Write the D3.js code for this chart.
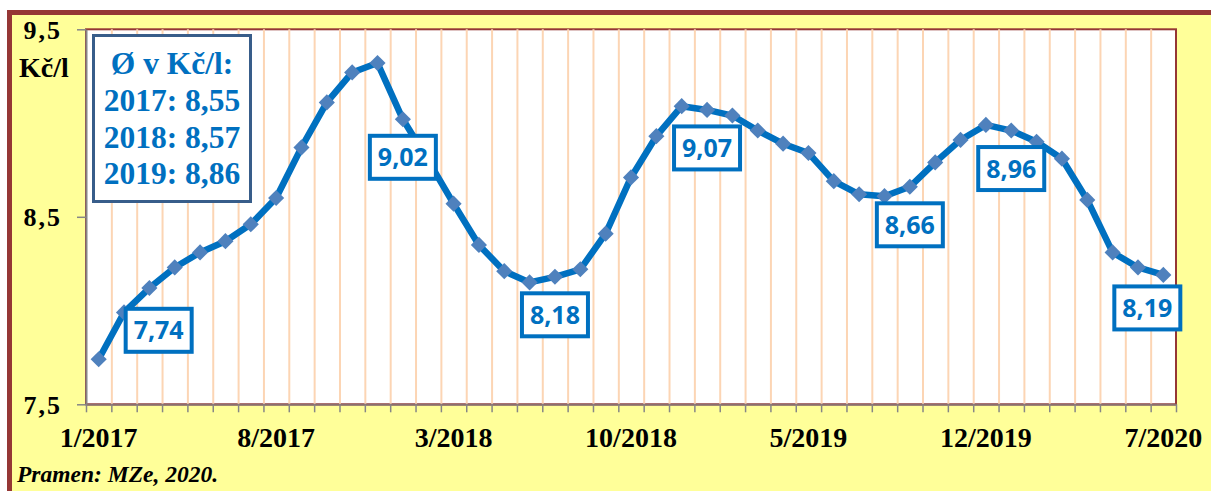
<!DOCTYPE html>
<html><head><meta charset="utf-8">
<script src="https://cdn.jsdelivr.net/npm/d3@7"></script>
<style>
html,body{margin:0;padding:0;background:#fff;}
svg{display:block;}
</style></head>
<body>
<svg id="c" width="1211" height="491"></svg>
<script>
// ---- data ----
const months = ["1/2017","2/2017","3/2017","4/2017","5/2017","6/2017","7/2017","8/2017","9/2017","10/2017","11/2017","12/2017",
"1/2018","2/2018","3/2018","4/2018","5/2018","6/2018","7/2018","8/2018","9/2018","10/2018","11/2018","12/2018",
"1/2019","2/2019","3/2019","4/2019","5/2019","6/2019","7/2019","8/2019","9/2019","10/2019","11/2019","12/2019",
"1/2020","2/2020","3/2020","4/2020","5/2020","6/2020","7/2020"];
const prices = [7.74,7.99,8.12,8.23,8.31,8.37,8.46,8.60,8.87,9.11,9.27,9.32,
9.02,8.80,8.57,8.35,8.21,8.15,8.18,8.22,8.41,8.71,8.93,9.09,
9.07,9.04,8.96,8.89,8.84,8.69,8.62,8.61,8.66,8.79,8.91,8.99,
8.96,8.90,8.81,8.59,8.31,8.23,8.19];
const xTickLabels = ["1/2017","8/2017","3/2018","10/2018","5/2019","12/2019","7/2020"];
const yTicks = [7.5,8.5,9.5];
const avgYears = ["2017","2018","2019"];
const avgValues = [8.55,8.57,8.86];
const labelMonths = ["1/2017","1/2018","7/2018","1/2019","9/2019","1/2020","7/2020"];
const unitLabel = "Kč/l";
const legendTitle = "Ø v Kč/l:";
const sourceText = "Pramen: MZe, 2020.";

// ---- layout ----
const L = 86, R = 1176, T = 29.3, B = 404.3;
const serif = "'Liberation Serif','Times New Roman',serif";
const fmt = v => v.toFixed(2).replace(".", ",");
const svg = d3.select("#c");

// frame
svg.append("rect").attr("x",9.5).attr("y",12.5).attr("width",1240).attr("height",520)
  .attr("fill","#FFFF99").attr("stroke","#953735").attr("stroke-width",5);

// plot area
svg.append("rect").attr("x",L).attr("y",T).attr("width",R-L).attr("height",B-T)
  .attr("fill","#fff").attr("stroke","#953735").attr("stroke-width",2);

const x = d3.scaleBand().domain(months).range([L,R]).padding(0);
const xb = d3.scaleLinear().domain([0, months.length]).range([L,R]);
const y = d3.scaleLinear().domain([7.5,9.5]).range([B,T]);

// gridlines
const grid = svg.append("g").attr("transform",`translate(0,${B})`)
  .call(d3.axisBottom(xb).tickValues(d3.range(1, months.length)).tickSize(-(B-T)).tickFormat(""));
grid.select(".domain").remove();
grid.selectAll("line").attr("stroke","#FCD5B4").attr("stroke-width",2);

// x axis ticks
const xa = svg.append("g").attr("transform",`translate(0,${B})`)
  .call(d3.axisBottom(xb).tickValues(d3.range(0, months.length+1)).tickSize(8).tickFormat("").tickSizeOuter(0));
xa.select(".domain").attr("stroke","#8a7070").attr("stroke-width",2);
xa.selectAll("line").attr("stroke","#868686").attr("stroke-width",1.5);

// x labels
const xl = svg.append("g").attr("transform",`translate(0,${B})`)
  .call(d3.axisBottom(x).tickValues(xTickLabels).tickSize(0));
xl.select(".domain").remove();
xl.selectAll("text").attr("y",43).attr("dy",0)
  .attr("font-family",serif).attr("font-weight","bold")
  .attr("font-size",28).attr("fill","#000");

// y axis
const ya = svg.append("g").attr("transform",`translate(${L},0)`)
  .call(d3.axisLeft(y).tickValues(yTicks).tickSize(9).tickSizeOuter(0)
    .tickFormat(d => d.toFixed(1).replace(".", ",")));
ya.select(".domain").attr("stroke","#868686").attr("stroke-width",2);
ya.selectAll("line").attr("stroke","#868686").attr("stroke-width",1.5);
ya.selectAll("text").attr("x",-24).attr("dy","0.34em")
  .attr("font-family",serif).attr("font-weight","bold")
  .attr("font-size",26).attr("fill","#000").attr("letter-spacing",2);

svg.append("text").attr("x",19).attr("y",77).text(unitLabel)
  .attr("font-family",serif).attr("font-weight","bold")
  .attr("font-size",28).attr("fill","#000");

// legend box
svg.append("rect").attr("x",93.5).attr("y",35.5).attr("width",157).attr("height",166)
  .attr("fill","#fff").attr("stroke","#385D8A").attr("stroke-width",3);
const legLines = [legendTitle].concat(avgYears.map((yr,i)=> yr + ": " + fmt(avgValues[i])));
svg.append("g").selectAll("text").data(legLines).join("text")
  .attr("x",172).attr("y",(d,i)=>74 + i*36.8).attr("text-anchor","middle")
  .attr("font-family",serif).attr("font-weight","bold")
  .attr("font-size",31.5).attr("fill","#0070C0").text(d=>d);

// line
const line = d3.line().x((d,i)=> x(months[i]) + x.bandwidth()/2).y(d=>y(d));
svg.append("path").datum(prices).attr("d",line).attr("fill","none")
  .attr("stroke","#0070C0").attr("stroke-width",6.5).attr("stroke-linejoin","round");

// markers
svg.append("g").selectAll("path").data(prices).join("path")
  .attr("d", d3.symbol().type(d3.symbolSquare).size(130))
  .attr("transform",(d,i)=>`translate(${x(months[i]) + x.bandwidth()/2},${y(d)}) rotate(45)`)
  .attr("fill","#4F81BD");

// data labels
const labelOffset = {"1/2017":[60,-29],"7/2020":[-16,33]};
const lg = svg.append("g");
labelMonths.forEach(m => {
  const i = months.indexOf(m);
  const off = labelOffset[m] || [0,38];
  const cx = x(m) + x.bandwidth()/2 + off[0];
  const cy = y(prices[i]) + off[1];
  lg.append("rect").attr("x",cx-33).attr("y",cy-21.5).attr("width",66).attr("height",43)
    .attr("fill","#fff").attr("stroke","#0070C0").attr("stroke-width",4);
  lg.append("text").attr("x",cx).attr("y",cy).attr("dy","0.36em").attr("text-anchor","middle")
    .attr("font-family","'Open Sans','Noto Sans',sans-serif").attr("font-weight","bold")
    .attr("font-size",25).attr("fill","#0070C0").text(fmt(prices[i]));
});

// source
svg.append("text").attr("x",17).attr("y",482).text(sourceText)
  .attr("font-family",serif).attr("font-weight","bold")
  .attr("font-style","italic").attr("font-size",23.5).attr("fill","#000");
</script>
</body></html>
